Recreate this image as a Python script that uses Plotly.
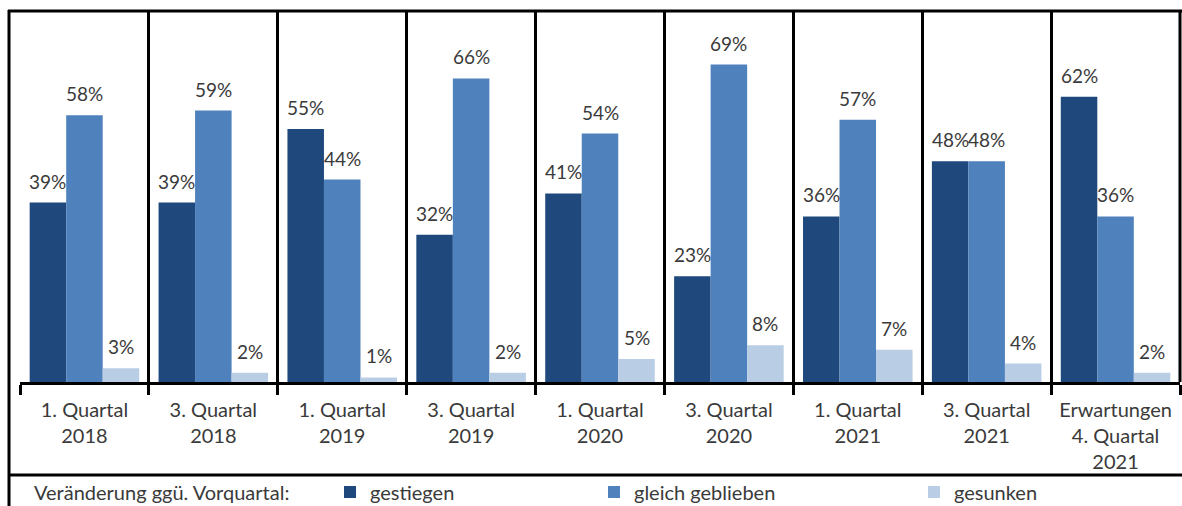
import plotly.graph_objects as go

categories = ["1. Quartal<br>2018", "3. Quartal<br>2018", "1. Quartal<br>2019",
              "3. Quartal<br>2019", "1. Quartal<br>2020", "3. Quartal<br>2020",
              "1. Quartal<br>2021", "3. Quartal<br>2021",
              "Erwartungen<br>4. Quartal<br>2021"]
gestiegen = [39, 39, 55, 32, 41, 23, 36, 48, 62]
gleich_geblieben = [58, 59, 44, 66, 54, 69, 57, 48, 36]
gesunken = [3, 2, 1, 2, 5, 8, 7, 4, 2]
series_names = ["gestiegen", "gleich geblieben", "gesunken"]
series_values = [gestiegen, gleich_geblieben, gesunken]
legend_title = "Veränderung ggü. Vorquartal:"

colors = ["#1F497D", "#4F81BD", "#B9CDE5"]
FONT = "Lato"
TXT = "#3a3a3a"

W, H = 1182, 506
ML, MR, MT, MB = 20, 2, 12, 124
PW, PH = W - ML - MR, H - MT - MB
BARGAP = 0.15


def px(x):
    return (x - ML) / PW


def py(y):
    return (H - MB - y) / PH


fig = go.Figure()
legend_ids = ["legend", "legend2", "legend3"]
for name, vals, col, lg in zip(series_names, series_values, colors, legend_ids):
    fig.add_trace(go.Bar(x=categories, y=vals, name=name, marker_color=col,
                         marker_line_width=0, legend=lg, showlegend=True))

annotations = []
nser = len(series_values)
bw = (1 - BARGAP) / nser
for j, vals in enumerate(series_values):
    for i, v in enumerate(vals):
        annotations.append(dict(x=i + (j - (nser - 1) / 2) * bw, y=v, xref="x", yref="y",
                                text=f"{v}%", showarrow=False, yanchor="bottom",
                                yshift=8, font=dict(family=FONT, size=19, color=TXT)))
annotations.append(dict(x=px(32), y=py(492), xref="paper", yref="paper", text=legend_title,
                        showarrow=False, xanchor="left", yanchor="middle",
                        font=dict(family=FONT, size=20, color=TXT)))

line = dict(color="black", width=3)
shapes = [
    dict(type="line", xref="paper", yref="paper", x0=px(8), x1=px(1182), y0=py(11), y1=py(11), line=line),
    dict(type="line", xref="paper", yref="paper", x0=px(9), x1=px(9), y0=py(10), y1=py(506), line=line),
    dict(type="line", xref="paper", yref="paper", x0=px(8), x1=px(1182), y0=py(475), y1=py(475), line=line),
    dict(type="line", xref="paper", yref="paper", x0=1, x1=1, y0=0, y1=1, line=line),
]

leg_common = dict(orientation="h", yanchor="middle", xanchor="left", y=py(492),
                  font=dict(family=FONT, size=20, color=TXT), bgcolor="rgba(0,0,0,0)",
                  itemwidth=30)
fig.update_layout(
    width=W, height=H,
    margin=dict(l=ML, r=MR, t=MT, b=MB, autoexpand=False),
    paper_bgcolor="white", plot_bgcolor="white",
    barmode="group", bargap=BARGAP, bargroupgap=0,
    font=dict(family=FONT, size=18, color=TXT),
    showlegend=True,
    xaxis=dict(type="category", tickson="boundaries", showgrid=True, gridcolor="black",
               gridwidth=3, showline=True, linecolor="black", linewidth=3,
               ticks="outside", ticklen=10, tickwidth=3, tickcolor="black",
               ticklabelstandoff=8,
               tickfont=dict(family=FONT, size=20, color=TXT), automargin=False),
    yaxis=dict(range=[0, (H - MB - MT) / 4.6], visible=False, showgrid=False, zeroline=False),
    legend=dict(leg_common, x=px(330)),
    legend2=dict(leg_common, x=px(594)),
    legend3=dict(leg_common, x=px(914)),
    annotations=annotations,
    shapes=shapes,
)

fig.write_html("out.html", config={"displayModeBar": False},
               post_script="document.body.style.margin='0';document.body.style.overflow='hidden';")
